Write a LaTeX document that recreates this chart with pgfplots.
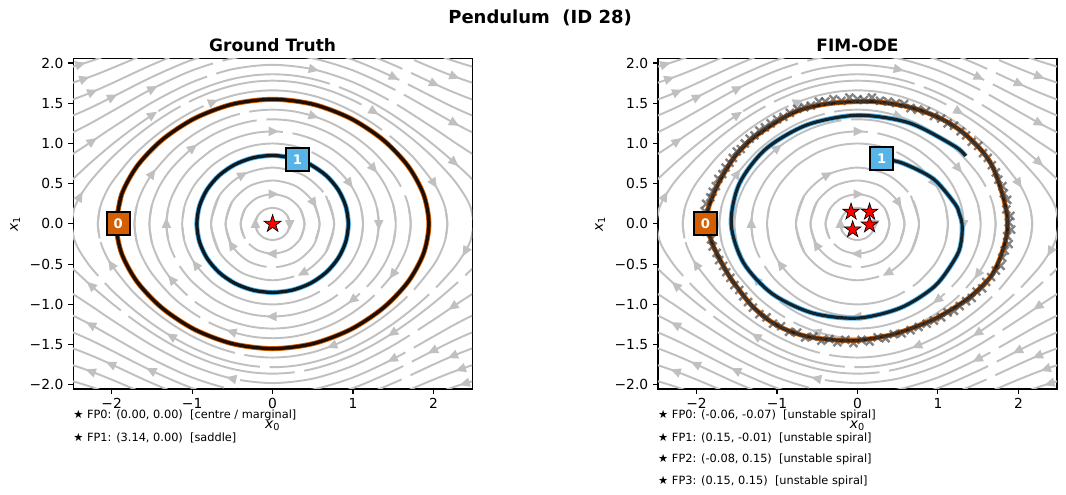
\documentclass[border=0pt]{standalone}
\usepackage{fontspec}
\setmainfont{DejaVu Sans}
\usepackage{pgfplots}
\usepackage{pgfplotstable}
\pgfplotsset{compat=1.18}
\usetikzlibrary{arrows.meta}
\definecolor{slgray}{RGB}{192,192,192}
\definecolor{orangeC}{HTML}{D55E00}
\definecolor{blueC}{HTML}{56B4E9}

\pgfdeclareplotmark{fstar}{%
  \pgfpathmoveto{\pgfpointpolar{90}{\pgfplotmarksize}}%
  \pgfpathlineto{\pgfpointpolar{126}{0.382\pgfplotmarksize}}%
  \pgfpathlineto{\pgfpointpolar{162}{\pgfplotmarksize}}%
  \pgfpathlineto{\pgfpointpolar{198}{0.382\pgfplotmarksize}}%
  \pgfpathlineto{\pgfpointpolar{234}{\pgfplotmarksize}}%
  \pgfpathlineto{\pgfpointpolar{270}{0.382\pgfplotmarksize}}%
  \pgfpathlineto{\pgfpointpolar{306}{\pgfplotmarksize}}%
  \pgfpathlineto{\pgfpointpolar{342}{0.382\pgfplotmarksize}}%
  \pgfpathlineto{\pgfpointpolar{18}{\pgfplotmarksize}}%
  \pgfpathlineto{\pgfpointpolar{54}{0.382\pgfplotmarksize}}%
  \pgfpathclose
  \pgfusepathqfillstroke
}

% ---- streamline data (upper halves; lower halves drawn rotated by 180 deg)
\pgfplotstableread{
x y
-0.185 -0.1
-0.2135 0
-0.185 0.1
-0.107 0.173
0 0.2
0.107 0.173
0.185 0.1
0.2135 0
0.185 -0.1
}\tEa
\pgfplotstableread{
x y
-0.344 -0.185
-0.397 0
-0.344 0.185
-0.199 0.320
0 0.37
0.199 0.320
0.344 0.185
0.397 0
0.344 -0.185
}\tEb
\pgfplotstableread{
x y
-0.506 -0.27
-0.584 0
-0.506 0.27
-0.292 0.468
0 0.54
0.292 0.468
0.506 0.27
0.584 0
0.506 -0.27
}\tEc
\pgfplotstableread{
x y
-0.6625 -0.35
-0.765 0
-0.6625 0.35
-0.3825 0.606
0 0.70
0.3825 0.606
0.6625 0.35
0.765 0
0.6625 -0.35
}\tEd
\pgfplotstableread{
x y
-1.1 -0.196
-1.124 0
-1.1 0.196
-1.05 0.340
-0.95 0.514
-0.75 0.727
-0.5 0.886
-0.25 0.972
0 1.0
0.25 0.972
0.5 0.886
0.75 0.727
0.95 0.514
1.05 0.340
1.1 0.196
1.124 0
1.1 -0.196
}\tCa
\pgfplotstableread{
x y
-1.3 -0.183
-1.32 0
-1.3 0.183
-1.25 0.343
-1.15 0.531
-1.0 0.717
-0.75 0.922
-0.5 1.052
-0.25 1.126
0 1.15
0.25 1.126
0.5 1.052
0.75 0.922
1.0 0.717
1.15 0.531
1.25 0.343
1.3 0.183
1.32 0
1.3 -0.183
}\tCb
\pgfplotstableread{
x y
-1.5 -0.234
-1.531 0
-1.5 0.234
-1.4 0.479
-1.25 0.696
-1.0 0.939
-0.75 1.104
-0.5 1.214
-0.25 1.279
0 1.3
0.25 1.279
0.5 1.214
0.75 1.104
1.0 0.939
1.25 0.696
1.4 0.479
1.5 0.234
1.531 0
1.5 -0.234
}\tCc
\pgfplotstableread{
x y
-1.69 -0.217
-1.717 0
-1.69 0.217
-1.625 0.401
-1.5 0.617
-1.25 0.901
-1.0 1.099
-0.75 1.243
-0.5 1.342
-0.25 1.401
0 1.42
0.25 1.401
0.5 1.342
0.75 1.243
1.0 1.099
1.25 0.901
1.5 0.617
1.625 0.401
1.69 0.217
1.717 0
1.69 -0.217
}\tCd
\pgfplotstableread{
x y
-2.15 -0.180
-2.172 0
-2.15 0.180
-2.1 0.327
-2.0 0.513
-1.75 0.826
-1.5 1.058
-1.25 1.245
-1.0 1.395
-0.75 1.511
-0.5 1.594
-0.25 1.643
0 1.66
0.25 1.643
0.5 1.594
0.75 1.511
1.0 1.395
1.25 1.245
1.5 1.058
1.75 0.826
2.0 0.513
2.1 0.327
2.15 0.180
2.172 0
2.15 -0.180
}\tCe
\pgfplotstableread{
x y
-2.47 -0.177
-2.4985 0
-2.47 0.177
-2.4 0.333
-2.25 0.550
-2.0 0.822
-1.75 1.046
-1.5 1.238
-1.25 1.401
-1.0 1.536
-0.75 1.642
-0.5 1.718
-0.25 1.765
0 1.78
0.25 1.765
0.5 1.718
0.75 1.642
1.0 1.536
1.25 1.401
1.5 1.238
1.75 1.046
2.0 0.822
2.25 0.550
2.4 0.333
2.47 0.177
2.4985 0
2.47 -0.177
}\tCf
\pgfplotstableread{
x y
-2.75 -0.270
-2.879 0
-2.75 0.270
-2.5 0.538
-2.25 0.771
-2.0 0.984
-1.75 1.177
-1.5 1.351
-1.25 1.502
-1.0 1.628
-0.75 1.728
-0.5 1.801
-0.25 1.845
0 1.86
0.25 1.845
0.5 1.801
0.75 1.728
1.0 1.628
1.25 1.502
1.5 1.351
1.75 1.177
2.0 0.984
2.25 0.771
2.5 0.538
2.75 0.270
2.879 0
2.75 -0.270
}\tCg
\pgfplotstableread{
x y
-2.75 0.723
-2.5 0.860
-2.25 1.022
-2.0 1.191
-1.5 1.508
-1.0 1.761
-0.5 1.922
0 1.977
0.5 1.922
1.0 1.761
1.5 1.508
2.0 1.191
2.25 1.022
2.5 0.860
2.75 0.723
}\tRa
\pgfplotstableread{
x y
-2.75 1.029
-2.5 1.130
-2.25 1.257
-2.0 1.398
-1.5 1.677
-1.0 1.907
-0.5 2.057
0 2.109
0.5 2.057
1.0 1.907
1.5 1.677
2.0 1.398
2.25 1.257
2.5 1.130
2.75 1.029
}\tRb
\pgfplotstableread{
x y
-2.75 1.257
-2.5 1.340
-2.25 1.449
-2.0 1.573
-1.5 1.825
-1.0 2.039
-0.5 2.180
0 2.228
0.5 2.180
1.0 2.039
1.5 1.825
2.0 1.573
2.25 1.449
2.5 1.340
2.75 1.257
}\tRc
\pgfplotstableread{
x y
-2.75 1.468
-2.5 1.540
-2.25 1.636
-2.0 1.746
-1.5 1.977
-1.0 2.176
-0.5 2.308
0 2.354
0.5 2.308
1.0 2.176
1.5 1.977
2.0 1.746
2.25 1.636
2.5 1.540
2.75 1.468
}\tRd
\pgfplotstableread{
x y
-2.75 1.687
-2.5 1.750
-2.25 1.835
-2.0 1.934
-1.75 2.039
-1.5 2.144
-1.0 2.329
0 2.496
1.0 2.329
1.5 2.144
1.75 2.039
2.0 1.934
2.25 1.835
2.5 1.750
2.75 1.687
}\tRe
\pgfplotstableread{
x y
-2.75 1.894
-2.5 1.950
-2.25 2.026
-2.0 2.117
-1.75 2.213
-1.5 2.310
-1.0 2.483
0 2.640
1.0 2.483
1.5 2.310
1.75 2.213
2.0 2.117
2.25 2.026
2.5 1.950
2.75 1.894
}\tRf
% arrow heads on the streamlines: position and direction
\pgfplotstableread{
x y u v
0.2135 0 0 -0.08
-0.2135 0 0 0.08
0 0.37 0.08 0
0 -0.37 -0.08 0
0.506 0.27 0.043 -0.068
-0.506 -0.27 -0.043 0.068
-0.3825 0.606 0.070 0.038
0.3825 -0.606 -0.070 -0.038
0.95 0.514 0.047 -0.065
-0.95 -0.514 -0.047 0.065
0 1.15 0.08 0
0 -1.15 -0.08 0
1.32 0 0 -0.08
-1.32 0 0 0.08
-1.0 0.939 0.063 0.049
1.0 -0.939 -0.063 -0.049
1.25 0.696 0.051 -0.061
-1.25 -0.696 -0.051 0.061
0.5 1.342 0.076 -0.024
-0.5 -1.342 -0.076 0.024
-1.5 0.617 0.046 0.065
1.5 -0.617 -0.046 -0.065
-0.75 1.511 0.074 0.030
0.75 -1.511 -0.074 -0.030
2.0 0.513 0.043 -0.067
-2.0 -0.513 -0.043 0.067
1.25 1.401 0.069 -0.041
-1.25 -1.401 -0.069 0.041
-2.4 0.333 0.039 0.070
2.4 -0.333 -0.039 -0.070
-1.5 1.351 0.067 0.044
1.5 -1.351 -0.067 -0.044
2.25 0.771 0.060 -0.053
-2.25 -0.771 -0.060 0.053
0.5 1.922 0.078 -0.017
-0.5 -1.922 -0.078 0.017
-2.25 1.022 0.066 0.045
2.25 -1.022 -0.066 -0.045
-1.5 1.677 0.071 0.037
1.5 -1.677 -0.071 -0.037
2.25 1.257 0.070 -0.038
-2.25 -1.257 -0.070 0.038
-2.0 1.573 0.071 0.036
2.0 -1.573 -0.071 -0.036
1.5 1.825 0.072 -0.035
-1.5 -1.825 -0.072 0.035
-2.25 1.636 0.074 0.031
2.25 -1.636 -0.074 -0.031
2.0 1.746 0.073 -0.033
-2.0 -1.746 -0.073 0.033
-2.35 1.80 0.076 0.026
2.35 -1.80 -0.076 -0.026
2.25 1.835 0.075 -0.028
-2.25 -1.835 -0.075 0.028
-2.4 1.98 0.077 0.023
2.4 -1.98 -0.077 -0.023
}\tArr

% ---- trajectories
\pgfplotstableread{
x y
-1.943 0
-1.877 0.365
-1.683 0.720
-1.374 1.044
-0.9715 1.310
-0.503 1.487
0 1.549
0.503 1.487
0.9715 1.310
1.374 1.044
1.683 0.720
1.877 0.365
1.943 0
1.877 -0.365
1.683 -0.720
1.374 -1.044
0.9715 -1.310
0.503 -1.487
0 -1.549
-0.503 -1.487
-0.9715 -1.310
-1.374 -1.044
-1.683 -0.720
-1.877 -0.365
-1.943 0
-1.877 0.365
}\gtO
\pgfplotstableread{
x y
0.31 0.804
0.4708 0.737
0.6657 0.6017
0.8153 0.4255
0.9094 0.2202
0.9415 0
0.9094 -0.2202
0.8153 -0.4255
0.6657 -0.6017
0.4708 -0.737
0.2437 -0.822
0 -0.851
-0.2437 -0.822
-0.4708 -0.737
-0.6657 -0.6017
-0.8153 -0.4255
-0.9094 -0.2202
-0.9415 0
-0.9094 0.2202
-0.8153 0.4255
-0.6657 0.6017
-0.4708 0.737
-0.2437 0.822
0 0.851
0.2437 0.822
0.31 0.804
0.4708 0.737
}\gtB
\pgfplotstableread{
x y
-1.89 0.00
-1.85 0.21
-1.72 0.52
-1.53 0.83
-1.33 1.04
-1.11 1.20
-0.90 1.33
-0.70 1.42
-0.45 1.48
-0.21 1.51
0.00 1.52
0.20 1.52
0.45 1.49
0.69 1.44
0.92 1.36
1.11 1.27
1.28 1.16
1.43 1.03
1.57 0.88
1.68 0.71
1.76 0.50
1.82 0.30
1.86 0.10
1.86 -0.10
1.82 -0.28
1.75 -0.48
1.66 -0.65
1.52 -0.80
1.37 -0.93
1.19 -1.05
0.96 -1.18
0.69 -1.29
0.45 -1.37
0.20 -1.42
-0.05 -1.45
-0.30 -1.44
-0.50 -1.42
-0.70 -1.38
-0.92 -1.30
-1.11 -1.19
-1.30 -1.03
-1.44 -0.86
-1.58 -0.67
-1.69 -0.48
-1.79 -0.28
-1.85 -0.11
-1.89 0.00
-1.85 0.21
}\fmO
\pgfplotstableread{
x y
0.296 0.811
0.559 0.756
0.941 0.561
1.211 0.251
1.266 0.128
1.30 0
1.292 -0.199
1.232 -0.399
0.967 -0.767
0.536 -1.042
0 -1.17
-0.562 -1.106
-1.062 -0.866
-1.419 -0.479
-1.57 0
-1.470 0.497
-1.141 0.930
-0.626 1.231
0 1.35
0.642 1.256
1.202 0.969
1.345 0.844
}\fmB
\pgfplotstableread{
x y
-1.93 0.05
-1.90 0.16
-1.88 0.25
-1.83 0.33
-1.80 0.40
-1.76 0.47
-1.73 0.56
-1.68 0.62
-1.64 0.70
-1.59 0.76
-1.55 0.82
-1.50 0.90
-1.45 0.93
-1.40 1.00
-1.34 1.06
-1.28 1.10
-1.22 1.16
-1.15 1.20
-1.08 1.25
-1.00 1.30
-0.92 1.33
-0.84 1.38
-0.75 1.43
-0.66 1.45
-0.58 1.47
-0.48 1.52
-0.40 1.52
-0.30 1.55
-0.20 1.53
-0.10 1.57
0.00 1.55
0.08 1.54
0.18 1.57
0.28 1.53
0.38 1.52
0.48 1.50
0.58 1.49
0.66 1.44
0.75 1.42
0.85 1.40
0.95 1.34
1.04 1.31
1.12 1.25
1.20 1.22
1.28 1.15
1.35 1.10
1.42 1.02
1.50 0.97
1.56 0.88
1.62 0.82
1.67 0.73
1.72 0.64
1.75 0.55
1.80 0.47
1.82 0.38
1.86 0.30
1.85 0.18
1.90 0.10
1.88 0.02
1.91 -0.07
1.86 -0.15
1.88 -0.25
1.83 -0.33
1.80 -0.42
1.78 -0.52
1.72 -0.58
1.66 -0.66
1.60 -0.72
1.55 -0.80
1.48 -0.84
1.42 -0.92
1.35 -0.96
1.27 -1.02
1.20 -1.08
1.12 -1.10
1.04 -1.16
0.95 -1.20
0.86 -1.24
0.76 -1.28
0.66 -1.32
0.55 -1.36
0.45 -1.37
0.35 -1.42
0.25 -1.41
0.15 -1.46
0.05 -1.44
-0.05 -1.48
-0.15 -1.44
-0.25 -1.47
-0.35 -1.43
-0.45 -1.45
-0.55 -1.40
-0.65 -1.41
-0.75 -1.35
-0.85 -1.34
-0.95 -1.27
-1.05 -1.24
-1.13 -1.16
-1.22 -1.12
-1.30 -1.04
-1.36 -0.97
-1.42 -0.90
-1.47 -0.82
-1.53 -0.76
-1.58 -0.67
-1.63 -0.60
-1.67 -0.52
-1.72 -0.45
-1.75 -0.36
-1.80 -0.28
-1.82 -0.19
-1.87 -0.10
}\fmX

\tikzset{fptext/.style={anchor=west, inner sep=0pt, font=\fontsize{8.2}{10}\selectfont}}
\pgfplotsset{
  sl/.style={draw=slgray, line width=1.4pt, smooth, dash pattern=on 130pt off 7pt},
  pp/.style={scale only axis, width=288.4pt, height=238.5pt,
    xmin=-2.48, xmax=2.48, ymin=-2.05, ymax=2.05,
    clip mode=individual,
    axis line style={line width=0.8pt},
    tick align=outside, tick pos=left, major tick length=3.5pt,
    major tick style={line width=0.8pt, black},
    xtick={-2,-1,0,1,2}, xticklabels={−2,−1,0,1,2},
    ytick={-2,-1.5,-1,-0.5,0,0.5,1,1.5,2},
    yticklabels={−2.0,−1.5,−1.0,−0.5,0.0,0.5,1.0,1.5,2.0},
    tick label style={font=\fontsize{10}{12}\selectfont},
    label style={font=\fontsize{10}{12}\selectfont},
    xlabel={\textit{x}\textsubscript{0}}, ylabel={\textit{x}\textsubscript{1}},
    xlabel style={yshift=-1.5pt},
    title style={font=\fontsize{12.3}{14}\selectfont\bfseries, yshift=-4pt},
  },
  startmk/.style={only marks, mark=square*, mark size=8.3pt,
    mark options={fill=#1, draw=black, line width=1.5pt},
    nodes near coords, point meta=explicit symbolic,
    every node near coord/.append style={anchor=center, text=white,
      font=\fontsize{9.5}{10}\selectfont\bfseries}},
}

\newcommand{\SL}[1]{%
  \addplot[sl] table {#1};
  \addplot[sl, dash phase=65pt] table[x expr=0-\thisrowno{0}, y expr=0-\thisrowno{1}] {#1};}
\newcommand{\streams}{%
  \SL{\tEa}\SL{\tEb}\SL{\tEc}\SL{\tEd}
  \SL{\tCa}\SL{\tCb}\SL{\tCc}\SL{\tCd}\SL{\tCe}\SL{\tCf}\SL{\tCg}
  \SL{\tRa}\SL{\tRb}\SL{\tRc}\SL{\tRd}\SL{\tRe}\SL{\tRf}
  \addplot[draw=slgray, fill=slgray, line width=1.4pt,
    quiver={u=\thisrow{u}, v=\thisrow{v}},
    -{Triangle[width=6.5pt,length=7.5pt]}] table {\tArr};
}

\begin{document}
\begin{tikzpicture}
\path[use as bounding box] (0,0) rectangle (770.4pt,357.7pt);
\node[font=\fontsize{13}{15}\selectfont\bfseries] at (390.3pt,345.0pt) {Pendulum\ \ (ID 28)};

\begin{axis}[pp, name=gt, at={(52.8pt,76.6pt)}, anchor=south west, title={Ground Truth}]
\streams
\addplot[orangeC, line width=3.6pt, smooth] table {\gtO};
\addplot[black, opacity=0.85, line width=2.4pt, smooth] table {\gtO};
\addplot[blueC, line width=3.6pt, smooth] table {\gtB};
\addplot[black, opacity=0.85, line width=2.4pt, smooth] table {\gtB};
\addplot[startmk=orangeC] coordinates {(-1.92,0) [0]};
\addplot[startmk=blueC] coordinates {(0.31,0.80) [1]};
\addplot[only marks, mark=fstar, mark size=6.6pt, mark options={fill=red, draw=black, line width=0.5pt}] coordinates {(0,0)};
\end{axis}
\node[fptext, yshift=-18.8pt] at (gt.south west) {★ FP0: (0.00, 0.00)\ \ [centre / marginal]};
\node[fptext, yshift=-35.4pt] at (gt.south west) {★ FP1: (3.14, 0.00)\ \ [saddle]};

\begin{axis}[pp, name=fm, at={(475.5pt,76.6pt)}, anchor=south west, title={FIM-ODE}]
\streams
\addplot[orangeC, line width=3.6pt, smooth] table {\fmO};
\addplot[black, opacity=0.75, line width=2.2pt, smooth] table {\fmO};
\addplot[only marks, mark=x, mark size=4pt, mark options={line width=1.7pt, draw=black!75}, opacity=0.65] table {\fmX};
\addplot[blueC, line width=3.6pt, smooth] table {\fmB};
\addplot[black, opacity=0.8, line width=2.3pt, smooth] table {\fmB};
\addplot[startmk=orangeC] coordinates {(-1.89,0) [0]};
\addplot[startmk=blueC] coordinates {(0.30,0.81) [1]};
\addplot[only marks, mark=fstar, mark size=6.3pt, mark options={fill=red, draw=black, line width=0.5pt}] coordinates {(-0.06,-0.07) (0.15,-0.01) (-0.08,0.15) (0.15,0.15)};
\end{axis}
\node[fptext, yshift=-18.8pt] at (fm.south west) {★ FP0: (-0.06, -0.07)\ \ [unstable spiral]};
\node[fptext, yshift=-35.4pt] at (fm.south west) {★ FP1: (0.15, -0.01)\ \ [unstable spiral]};
\node[fptext, yshift=-50.6pt] at (fm.south west) {★ FP2: (-0.08, 0.15)\ \ [unstable spiral]};
\node[fptext, yshift=-66.5pt] at (fm.south west) {★ FP3: (0.15, 0.15)\ \ [unstable spiral]};
\end{tikzpicture}
\end{document}
